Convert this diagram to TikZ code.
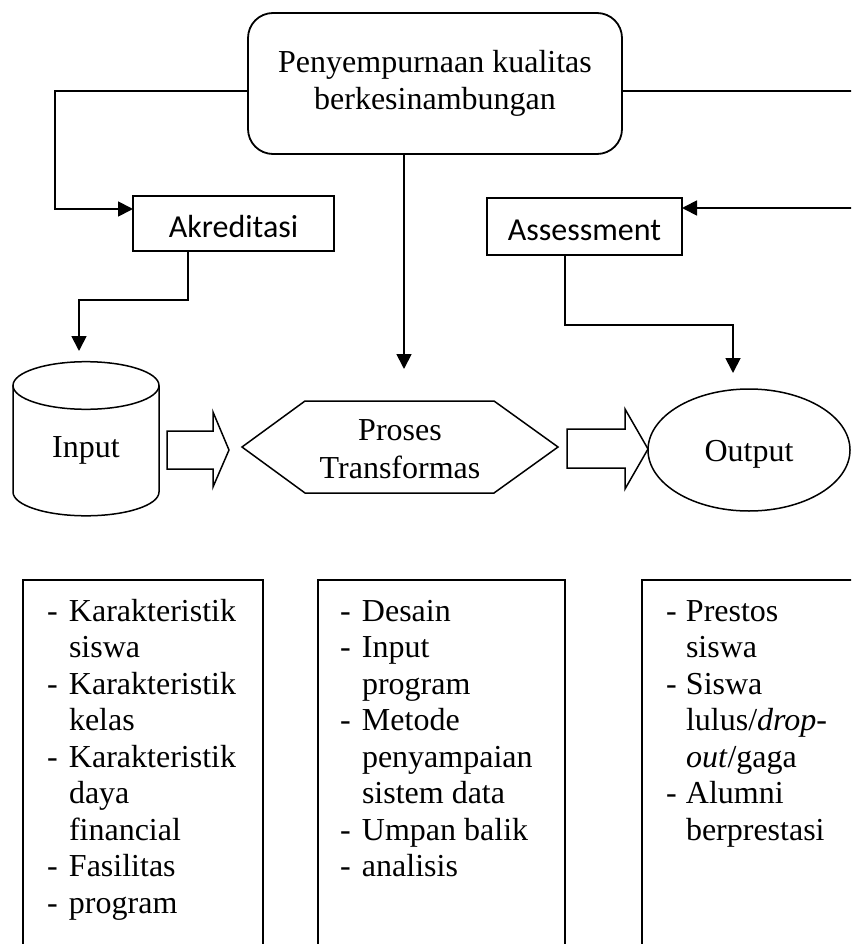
\documentclass[tikz,border=0pt]{standalone}
\usepackage{fontspec}
\setmainfont{Liberation Serif}
\newfontfamily\calib{Carlito}
\usetikzlibrary{arrows.meta,shapes.geometric}
\begin{document}
\begin{tikzpicture}[x=1pt,y=-1pt,
  line width=1.8pt,
  every node/.style={inner sep=0pt, outer sep=0pt},
  serif/.style={font=\fontsize{32}{37.5}\selectfont},
  sansbox/.style={draw, rectangle, font=\calib\fontsize{32}{38}\selectfont, text height=27pt, text depth=0pt},
  conn/.style={-{Triangle[length=15pt,width=15pt]}},
  shapeline/.style={line width=1.5pt, line join=miter},
  listbox/.style={draw, rectangle, anchor=north west, minimum height=420pt},
  listtext/.style={anchor=north west, font=\fontsize{32}{36.5}\selectfont},
]
\useasboundingbox (0,0) rectangle (851,944);
\clip (0,0) rectangle (851,944);

% top box
\node[draw, rounded corners=25pt, minimum width=374pt, minimum height=141pt, serif, align=center] (top) at (435,83.5) {Penyempurnaan kualitas\\berkesinambungan};

% Akreditasi / Assessment
\node[sansbox, minimum width=201pt, minimum height=55pt] (akr) at (233.5,223.5) {Akreditasi};
\node[sansbox, minimum width=195pt, minimum height=57pt] (ass) at (584.5,226.5) {Assessment};

% cylinder (Input)
\draw[shapeline] (86,385.5) ellipse[x radius=73pt, y radius=23.8pt];
\draw[shapeline] (13,385.5) -- (13,492) arc[start angle=180, end angle=360, x radius=73pt, y radius=23.8pt] -- (159,385.5);
\node[serif, anchor=base] (inp) at (86,457.7) {Input};
\coordinate (inArr) at (79,362);

% hexagon (Proses Transformas)
\draw[shapeline] (242,447) -- (305,401) -- (494,401) -- (558,447) -- (494,493) -- (305,493) -- cycle;
\coordinate (hexTop) at (400,401);
\node[serif, align=center] (proc) at (400,449) {Proses\\Transformas};

% ellipse (Output)
\node[draw, shapeline, ellipse, minimum width=202pt, minimum height=122pt, serif, text height=23.4pt, text depth=0pt] (out) at (749,450) {Output};

% block arrows
\draw[shapeline] (167,431) -- (213,431) -- (213,412) -- (229,450) -- (213,487) -- (213,469) -- (167,469) -- cycle;
\draw[shapeline] (567,429) -- (625,429) -- (625,409) -- (648,449) -- (625,489) -- (625,468) -- (567,468) -- cycle;

% connectors
\draw[conn] ([yshift=-7.5pt]top.west) -- ++(-193,0) |- ([yshift=14.5pt]akr.west);
\draw[conn, shorten >=11pt] ([xshift=-45.5pt]akr.south) -- ++(0,49) -| (inArr);
\draw[conn, shorten >=32pt] ([xshift=-31pt]top.south) -- ([xshift=-31pt]top.south |- hexTop);
\draw[conn, shorten >=16pt] ([xshift=-19.5pt]ass.south) -- ++(0,70) -| ([xshift=-16pt]out.north);
\draw[conn] ([yshift=-7.5pt]top.east) -- ++(240,0) |- ([yshift=18.5pt]ass.east);

% bottom list boxes
\node[listbox, minimum width=240pt] (b1) at (23,580) {};
\node[listbox, minimum width=247pt] (b2) at (318,580) {};
\node[listbox, minimum width=260pt] (b3) at (642,580) {};

\node[listtext] (l1) at ([shift={(24,15.5)}]b1.north west) {%
\begin{tabular}{@{}p{22pt}@{}l@{}}
- & Karakteristik\\
  & siswa\\
- & Karakteristik\\
  & kelas\\
- & Karakteristik\\
  & daya\\
  & financial\\
- & Fasilitas\\
- & program
\end{tabular}};

\node[listtext] (l2) at ([shift={(22,15.5)}]b2.north west) {%
\begin{tabular}{@{}p{22pt}@{}l@{}}
- & Desain\\
- & Input\\
  & program\\
- & Metode\\
  & penyampaian\\
  & sistem data\\
- & Umpan balik\\
- & analisis
\end{tabular}};

\node[listtext] (l3) at ([shift={(24,15.5)}]b3.north west) {%
\begin{tabular}{@{}p{20pt}@{}l@{}}
- & Prestos\\
  & siswa\\
- & Siswa\\
  & lulus/\textit{drop-}\\
  & \textit{out}/gaga\\
- & Alumni\\
  & berprestasi
\end{tabular}};
\end{tikzpicture}
\end{document}
